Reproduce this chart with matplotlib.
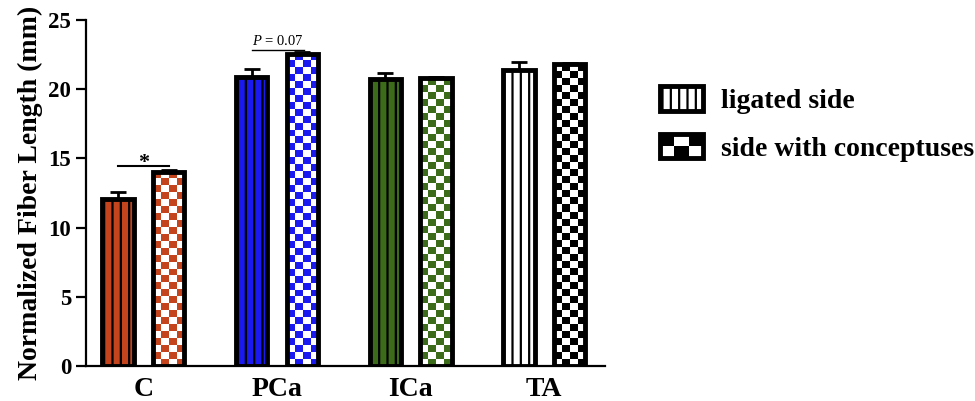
import numpy as np
import matplotlib
matplotlib.use("Agg")
import matplotlib.pyplot as plt
from matplotlib.colors import ListedColormap
from matplotlib.patches import Rectangle, Patch
from matplotlib.legend_handler import HandlerBase

plt.rcParams['font.family'] = ['Liberation Serif', 'DejaVu Serif']
plt.rcParams['mathtext.fontset'] = 'custom'
plt.rcParams['mathtext.it'] = 'Liberation Serif:italic'
plt.rcParams['mathtext.rm'] = 'Liberation Serif'
plt.rcParams['hatch.linewidth'] = 1.6

# data
groups = ['C', 'PCa', 'ICa', 'TA']
colors = ['#c4451d', '#1a1af0', '#3c6c1a', '#ffffff']
ligated = [12.05, 20.85, 20.7, 21.4]
ligated_err = [0.5, 0.6, 0.5, 0.55]
conceptus = [14.05, 22.55, 20.8, 21.8]
conceptus_err = [0.1, 0.1, 0.1, 0.1]
series_labels = ['ligated side', 'side with conceptuses']

x = np.arange(len(groups))
w = 0.235
off = 0.19

fig = plt.figure(figsize=(9.75, 4.01), dpi=100)
ax = fig.add_axes([0.088, 0.0873, 0.532, 0.863])
ax.set_xlim(-0.43, 3.45)
ax.set_ylim(0, 25)

# ligated side: colour + vertical stripes
ax.bar(x - off, ligated, w, color=colors, edgecolor='black', hatch='||',
       linewidth=3.5, zorder=3)
ax.errorbar(x - off, ligated, yerr=[np.zeros(4), ligated_err], fmt='none',
            ecolor='black', elinewidth=2, capsize=6, capthick=2, zorder=2)

# side with conceptuses: checkerboard
px_x = fig.get_figwidth() * fig.dpi * ax.get_position().width / np.ptp(ax.get_xlim())
px_y = fig.get_figheight() * fig.dpi * ax.get_position().height / np.ptp(ax.get_ylim())
sq = 7.0
bars = ax.bar(x + off, conceptus, w, color='white', edgecolor='none', zorder=1)
for b, c in zip(bars, colors):
    x0, x1 = b.get_x(), b.get_x() + b.get_width()
    h = b.get_height()
    nc = max(1, int(round(b.get_width() * px_x / sq)))
    nr = max(1, int(round(h * px_y / sq)))
    board = (np.add.outer(np.arange(nr), np.arange(nc)) % 2).astype(float)
    cm = ListedColormap(['white', c if c != '#ffffff' else 'black'])
    im = ax.imshow(board, extent=(x0, x1, 0, h), origin='lower', cmap=cm,
                   interpolation='nearest', aspect='auto', zorder=2)
    im.set_clip_path(b)
ax.bar(x + off, conceptus, w, fill=False, edgecolor='black', linewidth=3.5, zorder=3)
ax.errorbar(x + off, conceptus, yerr=[np.zeros(4), conceptus_err], fmt='none',
            ecolor='black', elinewidth=2, capsize=6, capthick=2, zorder=2)
ax.set_xlim(-0.43, 3.45)
ax.set_ylim(0, 25)

# significance marks
ax.plot([x[0] - off, x[0] + off], [14.45, 14.45], color='black', lw=1.5, clip_on=False)
ax.text(x[0], 13.95, '*', ha='center', va='bottom', fontsize=16, fontweight='bold')
ax.text(x[1] + 0.005, 22.95, r'$\mathit{P}$ = 0.07', ha='center', va='bottom',
        fontsize=10.5)
ax.plot([x[1] - 0.19, x[1] + 0.2], [22.8, 22.8], color='black', lw=1.0, clip_on=False)

# axes styling
for s in ['top', 'right']:
    ax.spines[s].set_visible(False)
for s in ['left', 'bottom']:
    ax.spines[s].set_linewidth(1.6)
ax.set_yticks([0, 5, 10, 15, 20, 25])
ax.tick_params(axis='y', labelsize=16.5, width=1.6, length=7)
ax.set_xticks(x)
ax.set_xticklabels(groups)
ax.tick_params(axis='x', labelsize=20, length=0, pad=8)
for lab in ax.get_xticklabels() + ax.get_yticklabels():
    lab.set_fontweight('bold')
ax.set_ylabel('Normalized Fiber Length (mm)', fontsize=20, fontweight='bold', labelpad=4)


class CheckerHandler(HandlerBase):
    def create_artists(self, legend, orig_handle, xdescent, ydescent, width, height,
                       fontsize, trans):
        out = [Rectangle((-xdescent, -ydescent), width, height, facecolor='white',
                         edgecolor='none', transform=trans)]
        nc, nr = 3, 2
        cw, ch = width / nc, height / nr
        for i in range(nr):
            for j in range(nc):
                if (i + j) % 2 == 0:
                    out.append(Rectangle((-xdescent + j * cw, -ydescent + (nr - 1 - i) * ch),
                                         cw, ch, facecolor='black', edgecolor='none',
                                         transform=trans))
        out.append(Rectangle((-xdescent, -ydescent), width, height, fill=False,
                             edgecolor='black', linewidth=3.5, transform=trans))
        return out


h1 = Patch(facecolor='white', edgecolor='black', hatch='||', linewidth=3.5)
h2 = Patch(facecolor='white', edgecolor='black')
fig.legend([h1, h2], series_labels, loc='upper left', bbox_to_anchor=(0.677, 0.785),
           frameon=False, handlelength=1.55, handleheight=1.0,
           handletextpad=0.65, labelspacing=0.7, borderpad=0, borderaxespad=0,
           prop={'size': 20, 'weight': 'bold'},
           handler_map={h2: CheckerHandler()})

fig.savefig('out.png', dpi=100)
